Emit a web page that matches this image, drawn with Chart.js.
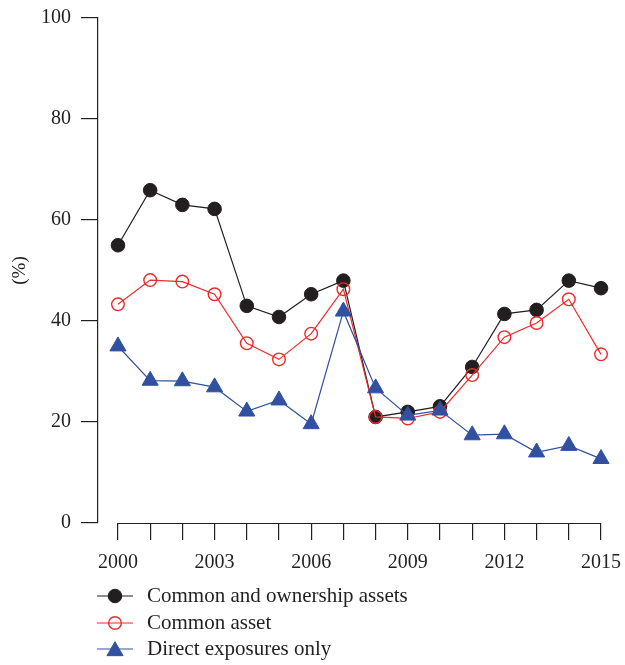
<!DOCTYPE html>
<html>
<head>
<meta charset="utf-8">
<script src="https://cdn.jsdelivr.net/npm/chart.js@4/dist/chart.umd.min.js"></script>
<style>
  html, body { margin: 0; padding: 0; background: #fff; }
  #wrap { width: 625px; height: 665px; position: relative; }
</style>
</head>
<body>
<div id="wrap"><canvas id="c" width="625" height="665"></canvas></div>
<script>
// Years on the horizontal axis
const years = [2000, 2001, 2002, 2003, 2004, 2005, 2006, 2007, 2008, 2009, 2010, 2011, 2012, 2013, 2014, 2015];
const yearLabels = [2000, 2003, 2006, 2009, 2012, 2015];
const yTicks = [0, 20, 40, 60, 80, 100];

// Share of links (%) by network type
const commonOwnership = [55.0, 65.9, 63.0, 62.2, 43.0, 40.8, 45.3, 48.0, 21.0, 22.0, 23.1, 30.9, 41.4, 42.2, 48.0, 46.5];
const commonAsset     = [43.3, 48.1, 47.8, 45.3, 35.6, 32.4, 37.5, 46.3, 21.0, 20.7, 22.0, 29.3, 36.8, 39.6, 44.3, 33.4];
const directOnly      = [35.0, 28.2, 28.1, 26.9, 22.1, 24.3, 19.6, 41.9, 26.7, 21.3, 22.3, 17.4, 17.6, 14.0, 15.3, 12.7];

const seriesNames = ['Common and ownership assets', 'Common asset', 'Direct exposures only'];

const INK = '#231f20';
const RED = '#ee2a2a';
const BLUE = '#3150a0';
const FONT = '"Liberation Serif", "DejaVu Serif", serif';

const toXY = arr => arr.map((v, i) => ({ x: years[i], y: v }));

// Legend rows: line sample with marker in the middle, followed by the label
const legendPlugin = {
  id: 'sampleLegend',
  afterDraw(chart) {
    const ctx = chart.ctx;
    const rows = [596, 623, 649];
    ctx.save();
    chart.data.datasets.forEach((ds, r) => {
      const y = rows[r];
      ctx.strokeStyle = ds.borderColor;
      ctx.lineWidth = ds.borderWidth;
      ctx.beginPath();
      ctx.moveTo(97, y);
      ctx.lineTo(133, y);
      ctx.stroke();
      ctx.fillStyle = ds.pointBackgroundColor;
      ctx.strokeStyle = ds.pointBorderColor;
      ctx.lineWidth = ds.pointBorderWidth;
      ctx.beginPath();
      const rad = ds.pointRadius;
      if (ds.pointStyle === 'triangle') {
        for (let k = 0; k < 3; k++) {
          const a = k * 2 * Math.PI / 3;
          const px = 115 + Math.sin(a) * rad, py = y + 2 - Math.cos(a) * rad;
          k === 0 ? ctx.moveTo(px, py) : ctx.lineTo(px, py);
        }
        ctx.closePath();
      } else {
        ctx.arc(115, y, rad, 0, Math.PI * 2);
      }
      ctx.fill();
      ctx.stroke();
      ctx.fillStyle = INK;
      ctx.font = '21px ' + FONT;
      ctx.textAlign = 'left';
      ctx.textBaseline = 'middle';
      ctx.fillText(ds.label, 147, y);
    });
    ctx.restore();
  }
};

// Horizontal baseline that spans only the first to the last year
const baselinePlugin = {
  id: 'baseline',
  afterDraw(chart) {
    const x = chart.scales.x, y = chart.scales.y;
    const ctx = chart.ctx;
    const y0 = Math.round(y.getPixelForValue(0)) + 0.5;
    ctx.save();
    ctx.strokeStyle = INK;
    ctx.lineWidth = 1.2;
    ctx.beginPath();
    ctx.moveTo(x.getPixelForValue(years[0]), y0);
    ctx.lineTo(x.getPixelForValue(years[years.length - 1]), y0);
    ctx.stroke();
    ctx.restore();
  }
};

new Chart(document.getElementById('c'), {
  type: 'line',
  data: {
    datasets: [
      {
        label: seriesNames[0],
        data: toXY(commonOwnership),
        borderColor: INK, borderWidth: 1.2,
        pointStyle: 'circle', pointRadius: 6.8,
        pointBackgroundColor: INK, pointBorderColor: INK, pointBorderWidth: 1,
        order: 2
      },
      {
        label: seriesNames[1],
        data: toXY(commonAsset),
        borderColor: RED, borderWidth: 1.2,
        pointStyle: 'circle', pointRadius: 6.3,
        pointBackgroundColor: 'rgba(255,255,255,0)', pointBorderColor: RED, pointBorderWidth: 1.4,
        order: 1
      },
      {
        label: seriesNames[2],
        data: toXY(directOnly),
        borderColor: BLUE, borderWidth: 1.2,
        pointStyle: 'triangle', pointRadius: 9.3,
        pointBackgroundColor: BLUE, pointBorderColor: BLUE, pointBorderWidth: 1,
        order: 0
      }
    ]
  },
  options: {
    responsive: false,
    animation: false,
    events: [],
    clip: false,
    layout: { padding: { top: 18, right: 24, bottom: 92, left: 0 } },
    plugins: { legend: { display: false }, tooltip: { enabled: false } },
    scales: {
      x: {
        type: 'linear',
        min: 1999.38,
        max: 2015,
        afterBuildTicks(scale) { scale.ticks = years.map(v => ({ value: v })); },
        afterFit(scale) {
          scale.height = 50;
          scale.paddingLeft = 0;
          scale.paddingRight = 0;
        },
        border: { display: false },
        grid: { drawOnChartArea: false, drawTicks: true, tickLength: 17, color: INK, lineWidth: 1.2 },
        ticks: {
          autoSkip: false, maxRotation: 0, padding: 11,
          color: INK, font: { family: FONT, size: 20 },
          callback: v => (yearLabels.includes(v) ? String(v) : '')
        }
      },
      y: {
        min: 0, max: 100,
        afterBuildTicks(scale) { scale.ticks = yTicks.map(v => ({ value: v })); },
        afterFit(scale) {
          scale.width = 98;
          scale.paddingTop = 0;
          scale.paddingBottom = 0;
        },
        border: { display: true, color: INK, width: 1.2 },
        grid: { drawOnChartArea: false, drawTicks: true, tickLength: 17, color: INK, lineWidth: 1.2 },
        ticks: { padding: 10, color: INK, font: { family: FONT, size: 20 } },
        title: {
          display: true, text: '(%)', color: INK,
          font: { family: FONT, size: 19 }, padding: { top: 9, bottom: 0 }
        }
      }
    }
  },
  plugins: [baselinePlugin, legendPlugin]
});
</script>
</body>
</html>
